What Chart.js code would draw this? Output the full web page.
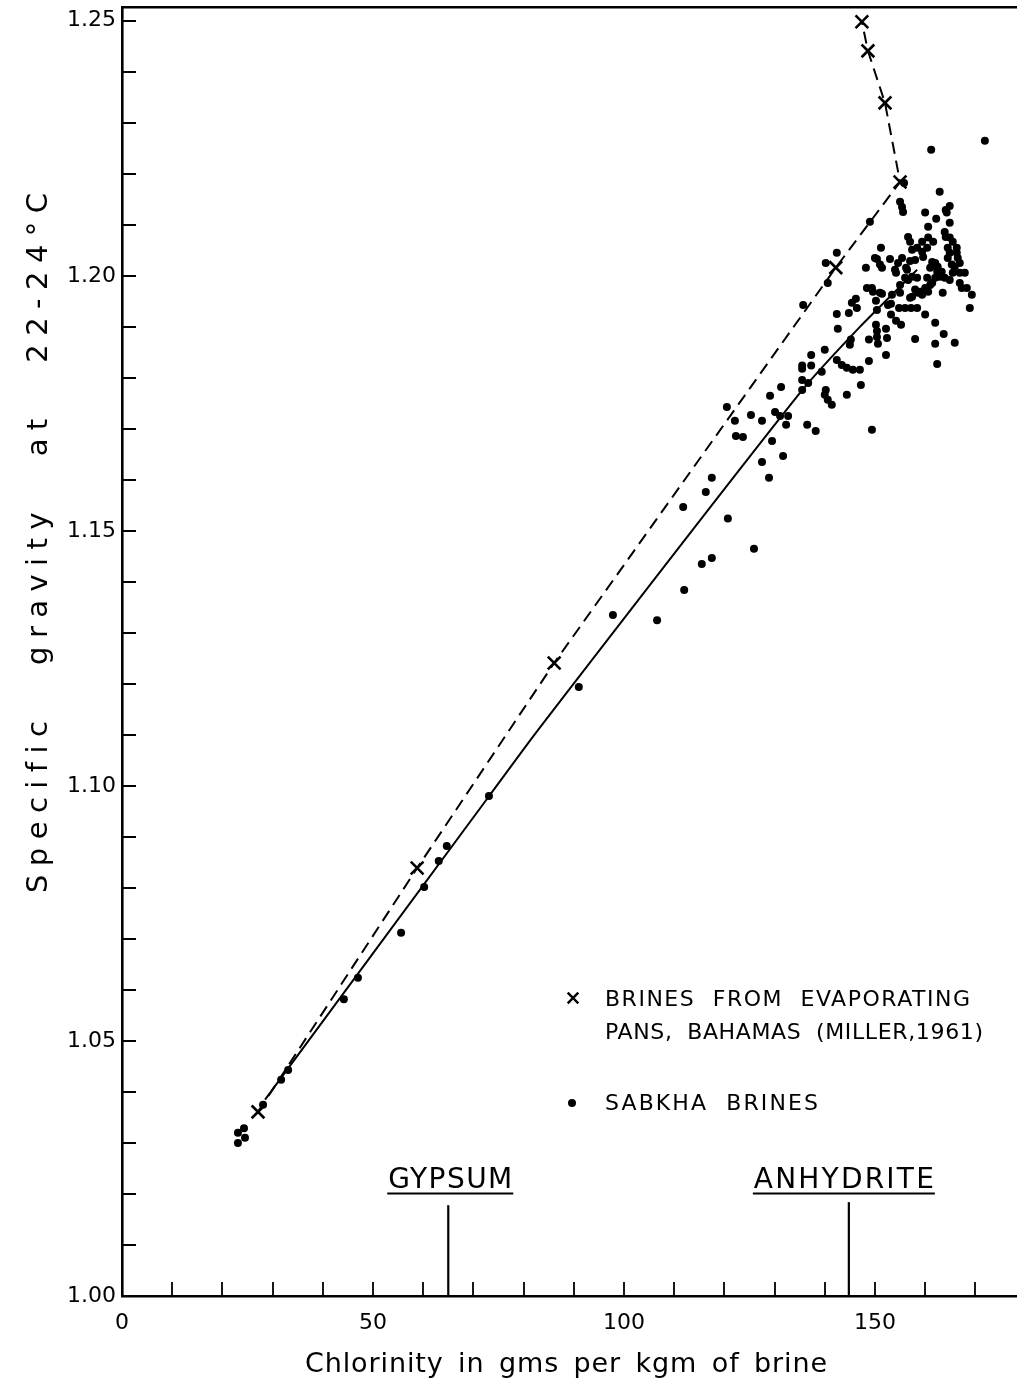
<!DOCTYPE html>
<html>
<head>
<meta charset="utf-8">
<script src="https://cdn.jsdelivr.net/npm/chart.js@4.4.0/dist/chart.umd.min.js"></script>
<style>
html,body{margin:0;padding:0;background:#fff;}
canvas{display:block;}
</style>
</head>
<body>
<canvas id="c" width="1017" height="1383"></canvas>
<script>
// ---------- data ----------
const bahamasX = [27.1, 58.8, 86.1, 142.2, 155.0, 152.0, 148.6, 147.4];
const bahamasY = [1.0361, 1.0839, 1.1241, 1.2016, 1.2184, 1.2339, 1.2441, 1.2498];

const sabkhaX = [23.1,24.3,23.1,24.5,28.1,31.7,33.1,44.2,47.0,55.6,60.2,63.1,64.7,73.1,91.0,97.8,106.6,112.0,115.5,117.5,125.9,120.7,111.8,116.3,117.5,127.5,128.9,131.7,129.5,122.3,123.7,122.1,120.5,125.3,127.5,130.1,131.1,132.7,132.3,129.1,131.3,136.5,138.2,149.4,135.5,135.5,137.3,137.3,140.0,139.4,135.5,136.7,135.5,140.2,140.0,140.6,141.4,144.4,147.2,142.4,143.4,144.4,145.6,147.0,148.8,152.2,145.2,145.0,142.6,142.4,144.8,145.4,146.2,146.4,135.7,140.6,140.2,142.4,149.0,148.8,150.2,150.4,150.4,150.6,152.2,152.4,149.6,151.4,150.2,153.2,153.2,154.2,155.2,154.8,156.0,157.2,158.4,158.0,160.0,162.0,163.7,162.0,162.4,165.9,163.5,157.4,158.6,160.6,148.2,150.4,151.0,153.0,154.6,154.2,156.2,148.4,149.4,151.0,155.0,156.6,150.4,152.6,155.8,162.9,155.0,155.4,155.6,160.0,162.2,164.1,164.9,164.3,164.9,160.6,163.9,164.1,156.6,157.0,159.4,160.6,161.6,164.9,165.5,151.2,157.4,158.4,159.4,160.4,159.6,155.4,157.0,158.0,166.3,166.3,166.5,166.9,164.5,164.9,164.5,161.4,162.0,162.5,162.4,163.3,162.9,163.9,162.0,161.0,164.9,165.5,166.9,167.9,165.3,165.9,150.0,151.4,154.0,156.4,156.0,157.4,158.4,160.4,161.4,160.0,161.0,158.0,159.0,159.4,157.0,153.4,155.0,166.9,167.3,168.3,169.3,168.9,171.9,161.2];
const sabkhaY = [1.0320,1.0329,1.0300,1.0310,1.0375,1.0424,1.0443,1.0582,1.0624,1.0712,1.0802,1.0853,1.0882,1.0980,1.1194,1.1335,1.1325,1.1384,1.1435,1.1447,1.1465,1.1524,1.1547,1.1576,1.1604,1.1635,1.1604,1.1647,1.1676,1.1686,1.1684,1.1716,1.1743,1.1727,1.1716,1.1733,1.1725,1.1725,1.1708,1.1765,1.1782,1.1708,1.1696,1.1698,1.1824,1.1818,1.1824,1.1845,1.1855,1.1812,1.1796,1.1790,1.1776,1.1776,1.1767,1.1757,1.1747,1.1767,1.1786,1.1835,1.1825,1.1820,1.1816,1.1816,1.1833,1.1845,1.1875,1.1865,1.1896,1.1925,1.1927,1.1947,1.1955,1.1937,1.1943,1.1986,1.2025,1.2045,1.2106,1.1875,1.1904,1.1892,1.1880,1.1867,1.1896,1.1878,1.1969,1.1965,1.1951,1.1945,1.1924,1.1912,1.1904,1.1937,1.1937,1.1937,1.1937,1.1876,1.1924,1.1908,1.1886,1.1867,1.1827,1.1869,1.1967,1.1959,1.1967,1.1969,1.2016,1.2033,1.2022,1.2033,1.2025,1.2006,1.2016,1.1976,1.1976,1.1967,1.1982,1.1992,1.1933,1.1943,1.2182,1.2165,1.2145,1.2135,1.2125,1.2124,1.2112,1.2129,1.2137,1.2124,1.2104,1.2096,1.2086,1.2076,1.2076,1.2067,1.2067,1.2075,1.2067,1.2075,1.2067,1.2055,1.2051,1.2055,1.2047,1.2055,1.2037,1.2035,1.2029,1.2031,1.2055,1.2045,1.2035,1.2025,1.2055,1.2045,1.2035,1.2027,1.2025,1.2018,1.2008,1.2008,1.1998,1.1996,1.1996,1.2016,1.1992,1.2006,1.2006,1.2006,1.2022,1.2018,1.2035,1.2016,1.2012,1.2012,1.1996,1.1998,1.1996,1.1996,1.1986,1.1976,1.1982,1.1973,1.1969,1.1963,1.1957,1.1963,1.1967,1.1986,1.1976,1.1976,1.1963,1.1937,1.2265,1.2247];

const trendX = [28.5, 72.3, 82.9, 135.1, 147.0, 158.4];
const trendY = [1.0385, 1.0969, 1.1110, 1.1771, 1.1900, 1.2012];

const mineralNames = ['GYPSUM', 'ANHYDRITE'];
const mineralX = [65.0, 144.8];
const mineralTopY = [1.0178, 1.0184];

const xTickLabels = [0, 50, 100, 150];
const yTickLabels = ['1.00', '1.05', '1.10', '1.15', '1.20', '1.25'];
const xTitle = 'Chlorinity in gms per kgm of brine';
const yTitle = 'Specific gravity at 22-24°C';
const legendBahamas = ['BRINES FROM EVAPORATING', 'PANS, BAHAMAS (MILLER,1961)'];
const legendSabkha = 'SABKHA BRINES';

// ---------- helpers ----------
const FONT = '"DejaVu Sans", "Liberation Sans", sans-serif';
const zip = (xs, ys) => xs.map((x, i) => ({ x: x, y: ys[i] }));

function spacedText(ctx, text, x, y, targetWidth, align, wordSp) {
  const hasLS = ('letterSpacing' in ctx);
  const hasWS = ('wordSpacing' in ctx);
  if (hasLS) ctx.letterSpacing = '0px';
  if (hasWS) ctx.wordSpacing = '0px';
  const w = ctx.measureText(text).width;
  const n = text.length;
  const spaces = (text.match(/ /g) || []).length;
  const ws = hasWS ? (wordSp || 0) : 0;
  const ls = (targetWidth - w - ws * spaces) / Math.max(1, n - 1);
  const startX = align === 'center' ? x - targetWidth / 2 : x;
  ctx.textAlign = 'left';
  if (hasLS) {
    ctx.letterSpacing = ls + 'px';
    if (hasWS) ctx.wordSpacing = ws + 'px';
    ctx.fillText(text, startX, y);
    ctx.letterSpacing = '0px';
    if (hasWS) ctx.wordSpacing = '0px';
  } else {
    let cx = startX;
    for (const ch of text) {
      ctx.fillText(ch, cx, y);
      cx += ctx.measureText(ch).width + ls + (ch === ' ' ? ws : 0);
    }
  }
}

function noPad(s) {
  s.paddingTop = 0; s.paddingBottom = 0; s.paddingLeft = 0; s.paddingRight = 0;
}

const decor = {
  id: 'decor',
  afterDraw(chart) {
    const ctx = chart.ctx;
    const xs = chart.scales.x, ys = chart.scales.y, a = chart.chartArea;
    ctx.save();
    ctx.strokeStyle = '#000';
    ctx.fillStyle = '#000';
    // inward tick marks
    ctx.lineWidth = 1.8;
    ctx.beginPath();
    xs.ticks.forEach(t => {
      if (t.value <= 0) return;
      const px = Math.round(xs.getPixelForValue(t.value));
      ctx.moveTo(px, a.bottom); ctx.lineTo(px, a.bottom - 14);
    });
    ys.ticks.forEach(t => {
      if (t.value <= 1.0001) return;
      const py = Math.round(ys.getPixelForValue(t.value));
      ctx.moveTo(a.left, py); ctx.lineTo(a.left + 14, py);
    });
    ctx.stroke();

    // mineral labels, underlined
    ctx.font = '28px ' + FONT;
    ctx.textBaseline = 'alphabetic';
    const labelW = [124, 180];
    const labelDx = [2, -5];
    mineralNames.forEach((name, i) => {
      const cx = xs.getPixelForValue(mineralX[i]) + labelDx[i];
      spacedText(ctx, name, cx, 1188, labelW[i], 'center');
      ctx.lineWidth = 2.2;
      ctx.beginPath();
      ctx.moveTo(cx - labelW[i] / 2 - 1, 1193.5);
      ctx.lineTo(cx + labelW[i] / 2 + 1, 1193.5);
      ctx.stroke();
    });

    // legend
    ctx.font = '22px ' + FONT;
    ctx.lineWidth = 2.4;
    Chart.helpers.drawPoint(ctx, { pointStyle: 'crossRot', radius: 7.5, rotation: 0, borderWidth: 2.4 }, 573, 998);
    spacedText(ctx, legendBahamas[0], 605, 1006, 365, 'left', 9);
    spacedText(ctx, legendBahamas[1], 605, 1039, 378, 'left', 7);
    ctx.beginPath();
    ctx.arc(572, 1103, 4, 0, Math.PI * 2);
    ctx.fill();
    spacedText(ctx, legendSabkha, 605, 1110, 213, 'left', 9);

    // axis titles
    ctx.font = '27px ' + FONT;
    spacedText(ctx, xTitle, 566, 1372, 522, 'center', 5);
    ctx.save();
    ctx.translate(47, 543);
    ctx.rotate(-Math.PI / 2);
    ctx.font = '29px ' + FONT;
    spacedText(ctx, yTitle, 0, 0, 700, 'center', 30);
    ctx.restore();

    ctx.restore();
  }
};

const lineDatasets = mineralX.map((mx, i) => ({
  label: mineralNames[i],
  data: [{ x: mx, y: 1.0 }, { x: mx, y: mineralTopY[i] }],
  showLine: true, borderColor: '#000', borderWidth: 2.2, pointRadius: 0, fill: false
}));

new Chart(document.getElementById('c'), {
  type: 'scatter',
  data: {
    datasets: [
      { label: 'Sabkha trend', data: zip(trendX, trendY), showLine: true, borderColor: '#000', borderWidth: 2, pointRadius: 0, fill: false, tension: 0.2 },
      { label: 'Brines from evaporating pans, Bahamas', data: zip(bahamasX, bahamasY), showLine: true,
        borderColor: '#000', borderWidth: 2, borderDash: [12, 7], fill: false,
        pointStyle: 'crossRot', pointRadius: 9, pointBorderWidth: 2.6, pointBorderColor: '#000', pointBackgroundColor: '#000' },
      { label: 'Sabkha brines', data: zip(sabkhaX, sabkhaY), pointStyle: 'circle', pointRadius: 4,
        pointBorderWidth: 0, pointBackgroundColor: '#000', borderColor: '#000' },
      ...lineDatasets
    ]
  },
  options: {
    responsive: false,
    animation: false,
    devicePixelRatio: 1,
    layout: { padding: 0, autoPadding: false },
    plugins: { legend: { display: false }, tooltip: { enabled: false } },
    scales: {
      x: {
        type: 'linear', position: 'bottom', min: 0, max: 178.3,
        afterFit(s) { s.height = 87; noPad(s); },
        ticks: {
          stepSize: 10, includeBounds: false, autoSkip: false, maxRotation: 0, minRotation: 0,
          padding: 14, color: '#000', font: { family: FONT, size: 22 },
          callback: (v) => xTickLabels.includes(Math.round(v)) ? String(Math.round(v)) : ''
        },
        grid: { display: false, drawTicks: false },
        border: { display: true, color: '#000', width: 2.6 }
      },
      xTop: {
        type: 'linear', position: 'top', min: 0, max: 178.3,
        afterFit(s) { s.height = 7; noPad(s); },
        ticks: { display: false },
        grid: { display: false, drawTicks: false },
        border: { display: true, color: '#000', width: 2.4 }
      },
      y: {
        type: 'linear', position: 'left', min: 1.0, max: 1.2527,
        afterFit(s) { s.width = 122; noPad(s); },
        ticks: {
          stepSize: 0.01, includeBounds: false, autoSkip: false, padding: 6,
          color: '#000', font: { family: FONT, size: 22 },
          callback: (v) => { const s = Number(v).toFixed(2); return yTickLabels.includes(s) ? s : ''; }
        },
        grid: { display: false, drawTicks: false },
        border: { display: true, color: '#000', width: 2.6 }
      }
    }
  },
  plugins: [decor]
});
</script>
</body>
</html>
